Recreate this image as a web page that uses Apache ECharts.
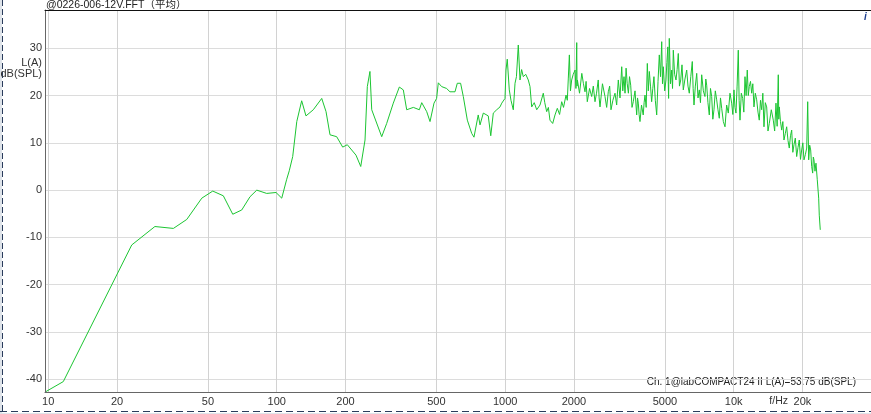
<!DOCTYPE html>
<html><head><meta charset="utf-8">
<script src="https://cdn.jsdelivr.net/npm/echarts@6/dist/echarts.min.js"></script>
<style>html,body{margin:0;padding:0;background:#fff;overflow:hidden}#c{width:871px;height:414px}</style>
</head><body><div id="c"></div>
<script>
// ---- data ----
const freqHz = [
 9.78, 11.64, 23.2, 29.3, 35.3, 40.4, 47.0, 52.5, 58.4, 64.2, 70.3, 76.4, 81.8, 90.4, 99.3,
 105.2, 110.6, 113.5, 117.5, 122.4, 128.6, 134.3, 144.6, 157.4, 164.4, 171.1, 183.0, 194.4,
 203.7, 222.3, 233.2, 243.5, 249.2, 255.9, 260.5, 288.1, 302.9, 323.8, 344.1, 358.2, 370.6,
 396.3, 421.0, 431.2, 453.4, 468.8, 488, 501, 509.6, 527, 554, 573, 603, 617, 638, 655.6,
 682.8, 713.6, 730, 762, 776, 802, 843, 864.5, 887, 918, 949, 966, 998,
 1008, 1021, 1042, 1060, 1085, 1104, 1120, 1141, 1161, 1180, 1200, 1230, 1262, 1284, 1306,
 1340, 1374, 1420, 1468, 1490, 1519, 1545, 1570, 1614, 1652, 1691, 1730, 1767, 1800, 1846,
 1870, 1889, 1909, 1930, 1954, 1985,
 2022, 2040, 2056, 2063, 2070, 2115, 2164, 2200, 2235, 2260, 2287, 2340, 2391, 2430, 2472,
 2510, 2554, 2577, 2600, 2665, 2734, 2780, 2826, 2865, 2904, 2960, 3024, 3075, 3126, 3180,
 3236, 3270, 3311, 3345, 3381, 3420, 3461, 3500, 3542, 3590, 3636, 3700, 3763, 3795, 3824,
 3855, 3890, 3950, 4018, 4055, 4091, 4140, 4188, 4230, 4274, 4325, 4375, 4425, 4477, 4540,
 4603, 4665, 4726, 4785, 4842, 4880, 4920, 4990, 5054, 5100, 5150, 5170, 5190, 5208, 5226,
 5290, 5355, 5400, 5442, 5515, 5591, 5655, 5722, 5790, 5864, 5940, 6018, 6120, 6228, 6310,
 6393, 6490, 6589, 6645, 6704, 6795, 6889, 6980, 7072, 7155, 7244, 7365, 7487, 7550, 7617,
 7715, 7820, 7915, 8011, 8105, 8199, 8310, 8425, 8535, 8650, 8755, 8862, 9010, 9162, 9315,
 9471, 9635, 9800, 9915, 10030, 10130, 10233, 10350, 10474, 10565, 10656, 10800, 10950, 11075,
 11206, 11335, 11468, 11585, 11701, 11845, 11988, 12125, 12268, 12435, 12607, 12775, 12942,
 13100, 13260, 13415, 13570, 13755, 13944, 14130, 14316, 14610, 14904, 15110, 15315, 15495,
 15675, 15755, 15834, 16025, 16222, 16410, 16600, 16830, 17058, 17285, 17511, 17725, 17940,
 18150, 18361, 18610, 18867, 19115, 19368, 19605, 19842, 20075, 20309, 20590, 20869, 21081,
 21291, 21510, 21727, 21945, 22167, 22310, 22460, 22690, 22918, 23220, 23550, 23690, 23930
];
const levelDb = [
 -42.6, -40.5, -11.6, -7.7, -8.1, -6.2, -1.7, -0.2, -1.2, -5.1, -4.2, -1.4, 0.0, -0.7, -0.5,
 -1.7, 2.3, 4.1, 7.1, 14.5, 18.9, 15.7, 17.0, 19.4, 16.6, 11.7, 11.3, 9.1,
 9.6, 7.4, 5.0, 10.6, 21.9, 25.1, 17.0, 11.3, 14.1, 18.4, 21.8, 21.2, 17.0,
 17.5, 17.0, 18.5, 16.6, 14.5, 18.4, 19.4, 22.7, 21.9, 21.5, 20.8, 20.8, 22.6, 22.6, 19.8,
 14.8, 12.0, 11.2, 15.9, 13.8, 16.3, 15.7, 11.5, 16.3, 17.0, 17.6, 18.4, 19.4,
 25.4, 27.7, 21.2, 19.0, 17.0, 22.6, 24.0, 30.7, 23.3, 25.5, 24.0, 24.5, 23.3, 21.9, 17.6,
 18.5, 17.0, 18.0, 20.5, 18.5, 16.6, 17.5, 14.8, 14.1, 15.9, 17.3, 16.0, 18.7, 17.5, 20.1,
 19.0, 23.7, 28.6, 21.0, 23.3, 24.5,
 25.4, 21.5, 31.2, 22.0, 23.3, 20.5, 24.7, 22.5, 20.8, 23.0, 18.7, 21.5, 19.8, 22.0, 18.7,
 20.5, 23.3, 19.5, 17.6, 22.5, 19.8, 17.5, 20.8, 22.0, 17.0, 19.0, 20.5, 18.0, 23.3, 19.5,
 26.1, 21.0, 24.0, 20.5, 25.8, 22.5, 20.5, 24.0, 22.2, 17.5, 18.7, 21.0, 15.9, 19.5, 18.4,
 16.0, 14.5, 18.0, 15.9, 18.5, 20.1, 17.5, 26.8, 21.0, 25.1, 22.0, 18.7, 21.5, 24.0, 19.0,
 15.9, 23.0, 28.6, 24.0, 31.4, 22.5, 26.1, 21.0, 23.3, 27.0, 30.3, 23.0, 19.4, 26.0, 32.1,
 22.5, 25.4, 21.5, 29.6, 24.5, 23.3, 25.5, 28.9, 22.0, 23.3, 26.5, 21.2, 23.5, 25.4, 22.0,
 20.5, 24.0, 27.2, 21.5, 18.0, 22.0, 24.7, 19.5, 21.2, 18.5, 24.4, 21.0, 19.8, 23.5, 22.2,
 18.5, 15.9, 21.5, 19.8, 15.0, 17.0, 21.0, 19.1, 17.0, 15.2, 19.5, 17.3, 14.5, 13.4, 18.0,
 16.3, 20.5, 18.4, 16.0, 21.2, 17.5, 16.3, 22.0, 29.6, 19.0, 14.8, 20.5, 19.4, 16.5,
 24.0, 20.0, 25.4, 20.0, 21.9, 23.0, 20.5, 22.5, 17.6, 20.5, 19.1, 16.5, 14.8,
 19.0, 17.0, 20.5, 13.4, 18.5, 17.6, 12.5, 14.1, 17.0, 14.8, 12.5, 18.4, 13.5,
 24.4, 15.0, 17.6, 14.5, 12.7, 14.5, 10.6, 12.0, 13.4, 10.5, 8.9, 11.5, 12.7,
 8.0, 9.6, 11.0, 7.1, 9.0, 10.6, 6.5, 8.5, 10.0, 6.4, 7.5, 8.9, 18.7,
 6.4, 9.5, 8.5, 5.0, 3.6, 7.0, 6.4, 4.0, 5.7, 2.2, -1.7, -5.3, -8.4
];
const xTicks = [10, 20, 50, 100, 200, 500, 1000, 2000, 5000, 10000, 20000];
const yTicks = [-40, -30, -20, -10, 0, 10, 20, 30];
const titleText = '@0226-006-12V.FFT（平均）';
const yNameLines = ['L(A)', 'dB(SPL)'];
const xName = 'f/Hz';
const infoText = 'Ch. 1@labCOMPACT24 II L(A)=53.75 dB(SPL)';

const FONT = "Arial, 'Liberation Sans', 'Noto Sans CJK SC', sans-serif";
const pts = freqHz.map((f, i) => [f, levelDb[i]]);
const fmtHz = v => v >= 10000 ? (v / 1000) + 'k' : String(v);

const chart = echarts.init(document.getElementById('c'), null, {renderer: 'canvas'});
chart.setOption({
  animation: false,
  backgroundColor: '#fff',
  grid: {left: 45, right: 0, top: 10, bottom: 22, containLabel: false},
  xAxis: [{
    type: 'log', logBase: 10, min: 9.68, max: 39900, position: 'bottom',
    axisLine: {show: true, onZero: false, lineStyle: {color: '#666', width: 1}},
    axisTick: {show: false, customValues: xTicks},
    axisLabel: {customValues: xTicks, formatter: fmtHz, color: '#333', fontSize: 11, fontFamily: FONT, margin: 4},
    splitLine: {show: true, lineStyle: {color: '#d2d2d2', width: 1}},
    minorTick: {show: false}, minorSplitLine: {show: false}
  }, {
    type: 'log', logBase: 10, min: 9.68, max: 39900, position: 'top',
    axisLine: {show: true, onZero: false, lineStyle: {color: '#111', width: 1}},
    axisTick: {show: false}, axisLabel: {show: false}, splitLine: {show: false}
  }],
  yAxis: {
    type: 'value', min: -42.7, max: 38.1,
    axisLine: {show: true, onZero: false, lineStyle: {color: '#666', width: 1}},
    axisTick: {show: false, customValues: yTicks},
    axisLabel: {customValues: yTicks, color: '#333', fontSize: 11, fontFamily: FONT, margin: 3},
    splitLine: {show: true, lineStyle: {color: '#dcdcdc', width: 1}}
  },
  series: [{
    type: 'line', data: pts, xAxisIndex: 0, showSymbol: false, symbol: 'none',
    lineStyle: {color: '#1cc532', width: 1}, silent: true
  }],
  graphic: [
    {type: 'rect', left: 0, top: 0, shape: {width: 2, height: 414}, style: {fill: '#dfe4ea'}},
    {type: 'rect', left: 0, top: 413, shape: {width: 871, height: 1}, style: {fill: '#dfe4ea'}},
    {type: 'line', shape: {x1: 2.5, y1: 0, x2: 2.5, y2: 414}, style: {stroke: '#2a3c5c', lineWidth: 1, lineDash: [6, 3]}},
    {type: 'line', shape: {x1: 0, y1: 411.5, x2: 871, y2: 411.5}, style: {stroke: '#2a3c5c', lineWidth: 1, lineDash: [7, 4]}},
    {type: 'text', x: 46, y: 5, style: {text: titleText, font: '10.5px ' + FONT, fill: '#222', textVerticalAlign: 'middle'}},
    {type: 'text', x: 42, y: 63, style: {text: yNameLines[0], font: '11px ' + FONT, fill: '#333', textAlign: 'right', textVerticalAlign: 'middle'}},
    {type: 'text', x: 42, y: 74, style: {text: yNameLines[1], font: '11px ' + FONT, fill: '#333', textAlign: 'right', textVerticalAlign: 'middle'}},
    {type: 'text', x: 788, y: 401, style: {text: xName, font: '10.5px ' + FONT, fill: '#333', textAlign: 'right', textVerticalAlign: 'middle'}},
    {type: 'text', x: 858, y: 382, style: {text: infoText, font: '10px ' + FONT, fill: '#222', textAlign: 'right', textVerticalAlign: 'middle', backgroundColor: '#fff', padding: [1, 2]}},
    {type: 'text', x: 864, y: 17, style: {text: 'i', font: 'italic bold 10px ' + FONT, fill: '#1d3f8f', textVerticalAlign: 'middle'}}
  ]
});
</script>
</body></html>
